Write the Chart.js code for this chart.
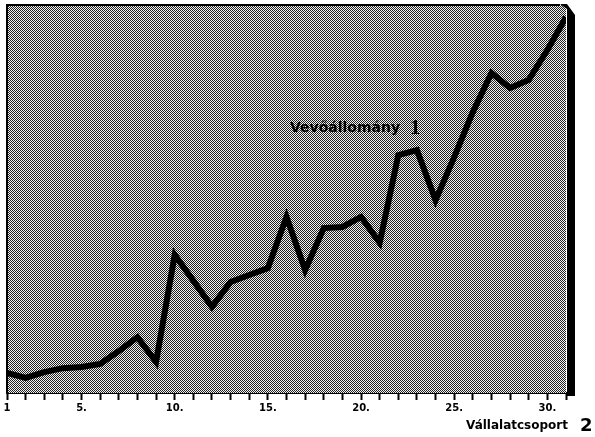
<!DOCTYPE html>
<html>
<head>
<meta charset="utf-8">
<script src="https://cdn.jsdelivr.net/npm/chart.js@4"></script>
<style>
  html, body { margin: 0; padding: 0; background: #fff; }
  #wrap { width: 595px; height: 437px; }
</style>
</head>
<body>
<div id="wrap"><canvas id="vevoChart" width="595" height="437"></canvas></div>
<script>
// vállalatcsoportok (1..31) és a vevőállomány relatív értékei
const csoportok = [1, 2, 3, 4, 5, 6, 7, 8, 9, 10, 11, 12, 13, 14, 15, 16,
    17, 18, 19, 20, 21, 22, 23, 24, 25, 26, 27, 28, 29, 30, 31];
const vevoallomany = [5.2, 3.9, 5.4, 6.4, 6.7, 7.5, 10.8, 14.4, 8.0, 35.6, 28.9,
    22.2, 28.6, 30.4, 32.2, 45.4, 31.7, 42.5, 42.8, 45.4, 38.7, 61.3, 62.6,
    49.7, 60.8, 72.4, 82.5, 78.6, 80.7, 88.4, 96.9];
const feliratozott = [1, 5, 10, 15, 20, 25, 30];

const ctx = document.getElementById("vevoChart").getContext("2d");

// szürke raszteres háttér mintája
function makePattern() {
    const c = document.createElement("canvas");
    c.width = 4;
    c.height = 4;
    const p = c.getContext("2d");
    p.fillStyle = "#f2f2f2";
    p.fillRect(0, 0, 4, 4);
    p.fillStyle = "#222";
    for (let y = 0; y < 4; y++) {
        for (let x = 0; x < 4; x++) {
            if ((x + y) % 2 === 0) p.fillRect(x, y, 1, 1);
        }
    }
    return ctx.createPattern(c, "repeat");
}

const hatter = {
    id: "hatter",
    beforeDatasetsDraw(chart) {
        const { ctx, chartArea: a } = chart;
        ctx.save();
        ctx.fillStyle = makePattern();
        ctx.fillRect(a.left, a.top, a.right - a.left, a.bottom - a.top);
        ctx.restore();
    },
    afterDraw(chart) {
        const { ctx, chartArea: a } = chart;
        ctx.save();
        // bal és felső keret
        ctx.strokeStyle = "#000";
        ctx.lineWidth = 2;
        ctx.beginPath();
        ctx.moveTo(a.left, a.bottom);
        ctx.lineTo(a.left, a.top);
        ctx.lineTo(a.right - 6, a.top);
        ctx.stroke();
        // jobb oldali vastag árnyék-sáv
        ctx.fillStyle = "#000";
        ctx.beginPath();
        ctx.moveTo(a.right - 6, a.top - 1);
        ctx.lineTo(a.right + 1, a.top - 1);
        ctx.lineTo(a.right + 9, a.top + 10);
        ctx.lineTo(a.right + 9, a.bottom + 3);
        ctx.lineTo(a.right + 1, a.bottom + 3);
        ctx.lineTo(a.right + 1, a.top + 4);
        ctx.closePath();
        ctx.fill();
        // feliratok
        ctx.fillStyle = "#000";
        ctx.textBaseline = "middle";
        ctx.font = "bold 14px 'DejaVu Sans', sans-serif";
        ctx.fillText("Vevőállomány", 290, 128);
        ctx.font = "bold 21px 'Liberation Serif', serif";
        ctx.fillText("1", 410, 129);
        ctx.font = "bold 12px 'DejaVu Sans', sans-serif";
        ctx.fillText("Vállalatcsoport", 466, 426);
        ctx.font = "bold 18px 'DejaVu Sans', sans-serif";
        ctx.fillText("2", 580, 426);
        ctx.restore();
    }
};

const config = {
    type: "line",
    data: {
        labels: csoportok,
        datasets: [{
            label: "Vevőállomány",
            data: csoportok.map((x, i) => ({ x: x, y: vevoallomany[i] })),
            borderColor: "#000",
            borderWidth: 6,
            pointRadius: 0,
            tension: 0,
            fill: false,
            borderJoinStyle: "miter",
        }],
    },
    options: {
        responsive: false,
        animation: false,
        layout: { padding: { left: 7, right: 29, top: 5, bottom: 0 } },
        plugins: {
            legend: { display: false },
            tooltip: { enabled: false },
        },
        scales: {
            x: {
                type: "linear",
                min: 1,
                max: 31,
                afterFit(scale) { scale.height = 44; },
                border: { display: true, color: "#000", width: 2 },
                grid: {
                    display: true,
                    drawOnChartArea: false,
                    drawTicks: true,
                    tickLength: 7,
                    tickWidth: 2,
                    tickColor: "#000",
                    color: "#000",
                },
                ticks: {
                    stepSize: 1,
                    autoSkip: false,
                    maxRotation: 0,
                    padding: 2,
                    color: "#000",
                    font: { family: "'DejaVu Sans', sans-serif", size: 10, weight: "bold" },
                    callback: (v) => feliratozott.includes(v) ? (v === 1 ? "1" : v + ".") : " ",
                },
            },
            y: {
                display: false,
                min: 0,
                max: 100,
            },
        },
    },
    plugins: [hatter],
};

new Chart(ctx, config);
</script>
</body>
</html>
